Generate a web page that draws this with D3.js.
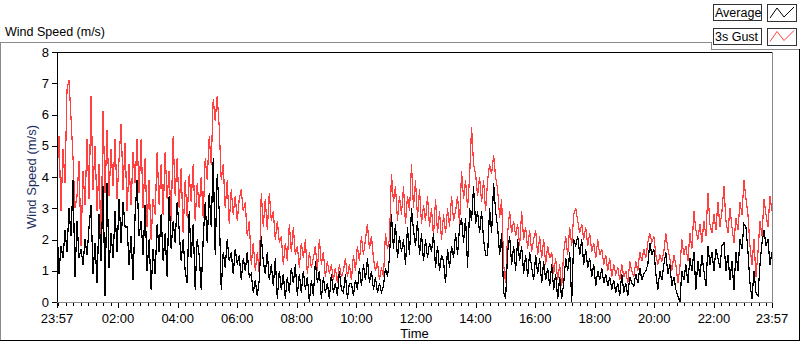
<!DOCTYPE html>
<html>
<head>
<meta charset="utf-8">
<script src="https://cdn.jsdelivr.net/npm/d3@7"></script>
<style>
  body { margin: 0; background: #fff; }
  svg text { font-family: "Liberation Sans Narrow", "Arial Narrow", "Liberation Sans", sans-serif; font-size: 13px; fill: #000; }
</style>
</head>
<body>
<svg id="chart" width="800" height="342"></svg>
<script>
// --- wind speed chart :: 24h of 3s gust vs average --------------------------

const START = new Date(2000, 0, 1, 23, 57);
const END   = new Date(2000, 0, 2, 23, 57);

// 3s gust (m/s), read left to right off the trace
const gust = [
  4.0, 5.3, 2.9, 4.9, 3.8, 6.8, 7.1, 5.9, 4.6, 3.0,
  3.4, 4.5, 1.8, 4.2, 3.1, 5.2, 3.3, 6.6, 3.6, 5.0,
  2.9, 4.4, 1.7, 6.1, 3.5, 5.5, 3.4, 4.9, 3.7, 5.2,
  3.3, 4.6, 5.7, 3.6, 5.1, 2.9, 4.4, 3.1, 4.8, 3.8,
  5.2, 3.5, 5.2, 3.0, 4.6, 2.4, 3.9, 2.0, 3.3, 2.8,
  4.8, 3.1, 4.4, 2.8, 4.8, 3.3, 4.2, 2.6, 5.3, 3.4,
  4.6, 3.0, 4.3, 2.2, 3.9, 2.7, 4.1, 3.2, 4.4, 2.6,
  3.8,
  3.0, 4.0, 2.7, 4.6, 3.9, 5.3, 4.4, 6.5, 5.8, 6.6,
  5.6, 3.9, 4.4, 3.0, 3.9, 2.5, 3.6, 2.8, 3.4, 2.6,
  3.3, 3.6, 2.9, 3.2, 2.1, 2.6, 1.2, 1.9, 1.0, 1.6,
  0.9, 3.5, 2.4, 3.3, 2.3, 3.5, 2.6, 2.9, 2.0, 2.6,
  1.9, 2.1, 1.2, 1.9, 1.3, 2.5, 1.6, 2.4, 1.5, 1.8,
  1.1, 1.9, 1.4, 2.0, 0.9, 1.6, 1.1, 1.4, 1.8, 1.0,
  2.0, 1.2, 1.6, 0.8, 1.3, 0.9, 1.2, 0.7, 1.1, 0.6,
  1.2, 0.8,
  1.0, 1.4, 0.8, 1.2, 0.7, 1.5, 1.0, 1.8, 1.3, 2.1,
  1.5, 2.0, 2.5, 1.7, 2.1, 1.4, 1.0, 1.3, 0.7, 1.1,
  0.8, 2.2, 1.7, 2.0, 4.1, 3.2, 3.7, 2.6, 3.4, 2.8,
  3.7, 2.5, 3.4, 2.9, 4.4, 3.0, 3.9, 2.7, 3.6, 2.5,
  3.1, 2.6, 3.4, 2.4, 3.0, 2.1, 3.3, 2.2, 2.9, 2.0,
  2.8, 2.2, 3.0, 2.4, 3.4, 2.6, 2.9, 3.4, 2.5, 4.2,
  3.3, 3.9, 3.0, 4.0, 5.6, 4.4, 4.1, 3.4, 4.0, 3.2,
  3.9, 2.9,
  3.9, 4.4, 4.1, 4.7, 4.0, 3.6, 2.7, 3.3, 1.2, 0.6,
  2.2, 2.9, 2.2, 2.6, 2.1, 2.5, 1.8, 2.9, 2.0, 2.4,
  1.7, 2.3, 1.6, 2.0, 2.3, 1.5, 2.1, 1.4, 2.0, 1.2,
  1.8, 1.4, 1.6, 0.9, 1.4, 0.7, 1.2, 0.5, 1.6, 2.1,
  1.5, 2.4, 1.8, 2.8, 3.0, 2.6, 2.2, 2.5, 2.0, 2.4,
  1.8, 2.2, 1.6, 1.9, 1.4, 2.0, 1.5, 1.7, 1.2, 1.5,
  1.0, 1.4, 0.8, 1.2, 0.9, 1.1, 0.7, 1.2, 0.8, 1.0,
  0.6, 1.3,
  1.0, 0.8, 1.3, 1.0, 1.6, 1.3, 1.7, 1.4, 1.9, 2.2,
  1.9, 2.1, 1.5, 1.2, 1.5, 1.3, 1.6, 2.2, 1.7, 1.4,
  1.0, 1.5, 1.2, 0.6, 1.1, 2.0, 1.5, 1.8, 1.3, 2.2,
  1.7, 2.9, 2.3, 2.0, 2.5, 1.9, 2.6, 2.1, 3.5, 2.5,
  2.2, 2.8, 2.3, 3.2, 2.4, 2.9, 3.7, 2.6, 2.2, 3.0,
  2.4, 1.9, 2.7, 2.3, 3.2, 2.8, 3.9, 3.3, 2.8, 1.8,
  1.2, 2.0, 0.8, 1.6, 2.6, 2.1, 3.3, 2.8, 2.4, 3.4,
  2.9
];

// average (m/s), same sampling
const average = [
  2.5, 0.9, 1.8, 1.4, 2.3, 1.6, 3.0, 2.1, 3.9, 0.8,
  2.6, 1.4, 1.7, 1.2, 2.0, 1.5, 2.4, 3.1, 0.9, 1.9,
  0.6, 2.8, 1.3, 3.7, 0.2, 3.8, 1.1, 2.2, 1.4, 2.9,
  1.6, 3.3, 1.9, 3.2, 2.4, 2.4, 1.2, 2.1, 0.7, 2.8,
  3.9, 2.1, 2.6, 1.5, 3.1, 1.0, 2.0, 0.4, 1.7, 0.9,
  2.5, 1.6, 2.8, 1.3, 2.2, 0.8, 3.4, 1.7, 2.6, 1.9,
  3.2, 2.3, 1.3, 2.0, 1.0, 0.6, 2.9, 1.4, 2.5, 0.4,
  2.0,
  1.5, 0.4, 2.0, 3.2, 1.9, 3.5, 2.4, 4.6, 1.5, 4.1,
  2.9, 0.4, 1.6, 1.1, 2.0, 1.3, 1.6, 0.9, 1.7, 1.2,
  1.5, 0.7, 1.4, 1.0, 1.6, 0.8, 0.9, 0.3, 0.7, 0.2,
  0.7, 2.1, 1.3, 0.9, 1.6, 0.7, 1.2, 0.5, 1.4, 0.1,
  1.0, 0.4, 0.9, 0.1, 0.8, 0.3, 1.1, 0.6, 1.2, 0.2,
  0.9, 0.3, 1.0, 0.4, 0.8, 0.0, 0.7, 0.2, 1.3, 0.6,
  1.0, 0.1, 0.8, 0.3, 0.6, 0.1, 0.9, 0.3, 0.6, 0.2,
  1.0, 0.4,
  0.3, 0.9, 0.1, 0.6, 0.6, 0.2, 0.7, 0.4, 1.1, 0.5,
  1.2, 0.7, 1.4, 0.6, 1.0, 0.4, 0.8, 0.3, 0.6, 0.3,
  0.5, 1.1, 0.8, 1.4, 2.8, 1.7, 2.5, 1.4, 2.1, 1.6,
  2.0, 1.2, 2.4, 1.5, 3.0, 2.3, 1.8, 2.6, 1.5, 2.2,
  1.3, 2.0, 1.4, 1.9, 1.6, 2.2, 1.1, 1.8, 1.0, 1.5,
  1.3, 0.6, 1.7, 1.1, 1.8, 1.4, 2.2, 1.5, 2.4, 2.7,
  1.9, 2.7, 1.1, 3.0, 2.6, 3.7, 2.5, 2.9, 2.2, 2.9,
  2.0, 1.5,
  1.5, 3.0, 2.2, 3.8, 2.9, 2.4, 1.5, 2.2, 0.3, 0.1,
  1.6, 2.1, 1.2, 1.8, 1.0, 2.0, 1.3, 1.8, 0.9, 1.5,
  0.8, 1.6, 1.1, 0.7, 1.5, 0.9, 1.4, 0.6, 1.3, 0.7,
  1.1, 0.5, 1.2, 0.4, 0.9, 0.1, 0.8, 0.1, 0.6, 1.4,
  1.0, 1.6, 0.0, 2.0, 1.8, 2.1, 1.5, 2.0, 1.2, 1.7,
  1.1, 1.4, 0.8, 1.2, 0.5, 1.0, 0.7, 1.1, 0.6, 0.9,
  0.5, 0.8, 0.4, 0.7, 0.3, 0.6, 0.2, 0.9, 0.3, 0.6,
  0.2, 0.8,
  0.6, 0.5, 0.9, 0.6, 1.1, 0.7, 0.9, 1.0, 1.2, 1.9,
  1.5, 1.7, 0.9, 0.4, 1.0, 0.7, 1.2, 1.6, 0.9, 1.2,
  0.5, 0.8, 0.4, 0.2, 0.0, 1.0, 0.7, 1.2, 0.6, 1.4,
  1.0, 1.6, 0.4, 1.3, 0.8, 1.5, 1.0, 0.5, 1.8, 1.2,
  1.6, 1.0, 1.7, 1.4, 1.1, 1.8, 1.9, 1.0, 1.5, 0.7,
  1.3, 0.4, 1.6, 1.0, 2.0, 1.7, 2.5, 2.4, 1.6, 0.6,
  0.1, 1.0, 0.3, 0.2, 1.2, 1.9, 2.3, 1.8, 2.0, 1.2,
  1.6
];

const legendNames = ['Average', '3s Gust'];
const lineColors  = ['#000000', '#ff4040'];
const yTickValues = [0, 1, 2, 3, 4, 5, 6, 7, 8];
const majorHours  = [2, 4, 6, 8, 10, 12, 14, 16, 18, 20, 22];

// sample times, evenly spaced over the day
const n = gust.length;
const times = d3.range(n).map(i => new Date(+START + i * (END - START) / (n - 1)));

const PL = 57, PR = 772, PT = 52, PB = 302;

const svg = d3.select('#chart');

const x = d3.scaleTime().domain([START, END]).range([PL, PR]);
const y = d3.scaleLinear().domain([0, 8]).range([PB, PT]);

// --- panel frame ---
const frame = svg.append('g').attr('shape-rendering', 'crispEdges');
frame.append('path').attr('d', 'M0.5,341 V42.5 H711.5 V49.5 H800').attr('fill', 'none').attr('stroke', '#8a8a8a');
frame.append('path').attr('d', 'M0,340.5 H799.5 V49').attr('fill', 'none').attr('stroke', '#000');

svg.append('text').attr('x', 5).attr('y', 36).style('font-size', '12.5px').text('Wind Speed (m/s)');

// --- plot frame ---
frame.append('path').attr('d', `M${PL + 0.5},${PB} V${PT + 0.5} H${PR}`).attr('fill', 'none').attr('stroke', '#000');
frame.append('path').attr('d', `M${PL},${PB + 0.5} H${PR + 0.5} V${PT}`).attr('fill', 'none').attr('stroke', '#8a8a8a');

// --- y axis ---
const yAxis = svg.append('g').attr('shape-rendering', 'crispEdges');
yAxis.selectAll('line').data(yTickValues).join('line')
  .attr('x1', PL - 5).attr('x2', PL)
  .attr('y1', d => Math.round(y(d)) + 0.5).attr('y2', d => Math.round(y(d)) + 0.5)
  .attr('stroke', '#000');
yAxis.selectAll('text').data(yTickValues).join('text')
  .attr('x', PL - 8).attr('y', d => y(d) + 4.5)
  .attr('text-anchor', 'end')
  .text(d => d);

svg.append('text')
  .attr('transform', `translate(36,${(PT + PB) / 2}) rotate(-90)`)
  .attr('text-anchor', 'middle')
  .style('fill', '#1c2f5c')
  .text('Wind Speed (m/s)');

// --- x axis: majors every 2h plus the end points, minors every 15 min ---
const majors = [START, ...majorHours.map(h => new Date(2000, 0, 2, h, 0)), END];
const minors = d3.timeMinute.every(15).range(START, END)
  .filter(t => !majors.some(m => +m === +t));

const xAxis = svg.append('g').attr('shape-rendering', 'crispEdges');
xAxis.selectAll('line.minor').data(minors).join('line')
  .attr('class', 'minor')
  .attr('x1', d => Math.round(x(d)) + 0.5).attr('x2', d => Math.round(x(d)) + 0.5)
  .attr('y1', PB + 1).attr('y2', PB + 4)
  .attr('stroke', '#000');
xAxis.selectAll('line.major').data(majors).join('line')
  .attr('class', 'major')
  .attr('x1', d => Math.round(x(d)) + 0.5).attr('x2', d => Math.round(x(d)) + 0.5)
  .attr('y1', PB + 1).attr('y2', PB + 6)
  .attr('stroke', '#000');
const fmt = d3.timeFormat('%H:%M');
xAxis.selectAll('text').data(majors).join('text')
  .attr('x', d => x(d)).attr('y', 323)
  .attr('text-anchor', 'middle')
  .text(d => fmt(d));

svg.append('text').attr('x', (PL + PR) / 2).attr('y', 338)
  .attr('text-anchor', 'middle').text('Time');

// --- traces (aliased, like the instrument panel) ---
svg.append('clipPath').attr('id', 'plot-clip')
  .append('rect').attr('x', PL + 1).attr('y', PT + 1).attr('width', PR - PL - 1).attr('height', PB - PT);

const line = d3.line().x((d, i) => x(times[i])).y(d => y(d));
const traces = svg.append('g').attr('clip-path', 'url(#plot-clip)').attr('shape-rendering', 'crispEdges');
traces.append('path').datum(gust).attr('d', line)
  .attr('fill', 'none').attr('stroke', lineColors[1]).attr('stroke-width', 1.2);
traces.append('path').datum(average).attr('d', line)
  .attr('fill', 'none').attr('stroke', lineColors[0]).attr('stroke-width', 1.2);

// --- legend, top right ---
const legend = svg.append('g').attr('shape-rendering', 'crispEdges');
legendNames.forEach((name, i) => {
  const top = 4 + i * 23.5;
  legend.append('rect').attr('x', 713.5).attr('y', top + 0.5).attr('width', 48).attr('height', 16)
    .attr('fill', '#fff').attr('stroke', '#333');
  legend.append('text').attr('x', 715).attr('y', top + 13).style('font-size', '12.5px').text(name);
  legend.append('rect').attr('x', 767.5).attr('y', top + 0.5).attr('width', 29).attr('height', 17)
    .attr('fill', '#fff').attr('stroke', '#333');
  const zz = [[770, top + 14], [777, top + 4], [784, top + 13], [794, top + 3]];
  svg.append('path').attr('d', d3.line()(zz))
    .attr('fill', 'none').attr('stroke', lineColors[i]).attr('stroke-width', 1);
});
</script>
</body>
</html>
